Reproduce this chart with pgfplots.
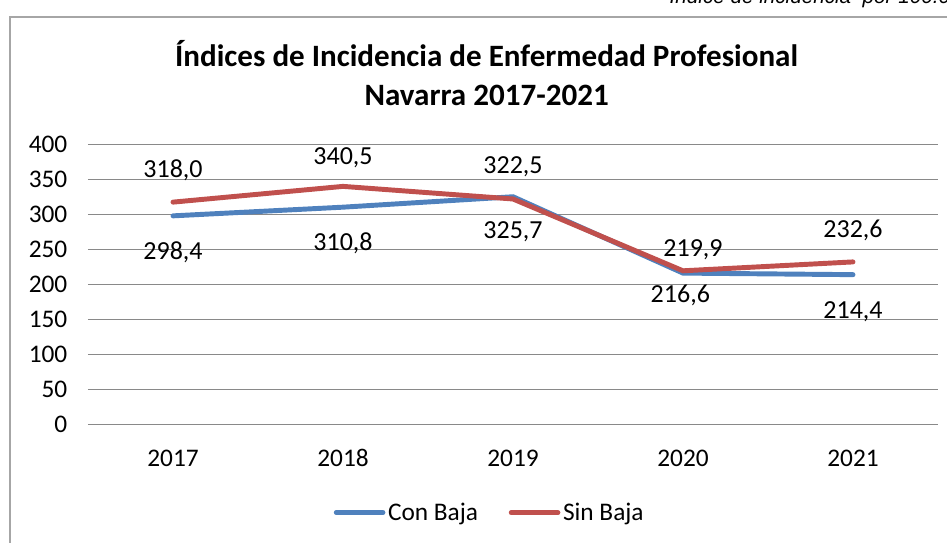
\documentclass[border=0pt]{standalone}
\usepackage{pgfplots}
\pgfplotsset{compat=1.18}
\usepackage{pgfplotstable}
\usepackage{fontspec}
\setmainfont{Carlito}
\newfontfamily\arialfont{Liberation Sans}
\definecolor{conbaja}{HTML}{4F81BD}
\definecolor{sinbaja}{HTML}{C0504D}
\definecolor{gridgray}{HTML}{898989}

% dx, dy: label offsets (pt) from each point
\pgfplotstableread{
x  y      dx   dy
0  298.4  0    -27
1  310.8  0    -27
2  325.7  0    -26.25
3  216.6  -2   -16.5
4  214.4  0    -27.75
}\conbaja
\pgfplotstableread{
x  y      dx   dy
0  318.0  0    24
1  340.5  0    21.75
2  322.5  0    24
3  219.9  7.5  15.75
4  232.6  0    24
}\sinbaja

\begin{document}
\begin{tikzpicture}
\useasboundingbox (0,0) rectangle (710.25pt,407.25pt);
\clip (0,0) rectangle (710.25pt,407.25pt);
\draw[gray!70, line width=1.1pt] (7.5pt,394.5pt) rectangle (720pt,-10pt);
\node[anchor=base west, font=\arialfont\itshape\fontsize{15.5}{18}\selectfont] at (498.75pt,404.8pt) {Índice de incidencia\ \ por 100.000 trabajadores};
\node[align=center, font=\bfseries\fontsize{23.3}{29.5}\selectfont] at (365pt,352.5pt) {Índices de Incidencia de Enfermedad Profesional\\Navarra 2017-2021};
\begin{axis}[
    at={(66pt,88.7pt)}, anchor=south west,
    scale only axis,
    width=637.5pt, height=210pt,
    xmin=-0.5, xmax=4.5,
    ymin=0, ymax=400,
    ytick={0,50,...,400},
    xtick={0,...,4},
    xticklabels={2017,2018,2019,2020,2021},
    axis line style={draw=none},
    major tick length=0pt,
    ymajorgrids,
    grid style={gridgray, line width=1.1pt},
    tick label style={font=\fontsize{19}{22}\selectfont},
    /pgf/number format/assume math mode=true,
    yticklabel style={xshift=-12pt},
    xticklabel style={anchor=base, yshift=-31pt},
    legend columns=2,
    legend style={at={(0.473,-0.314)}, anchor=center, draw=none, font=\fontsize{19}{22}\selectfont,
        /tikz/every even column/.append style={column sep=21pt}},
    legend image code/.code={\draw[#1, line cap=round] (0pt,0pt) -- (35pt,0pt);},
    nodes near coords={\pgfmathprintnumber[fixed, fixed zerofill, precision=1, use comma, assume math mode=true]{\pgfplotspointmeta}},
    visualization depends on=\thisrow{dx}\as\dx,
    visualization depends on=\thisrow{dy}\as\dy,
    every node near coord/.append style={anchor=center, xshift=\dx pt, yshift=\dy pt, font=\fontsize{19.5}{22}\selectfont, text=black},
    clip=false,
]
\addplot[conbaja, line width=3.7pt, line cap=round] table[x=x, y=y] {\conbaja};
\addlegendentry{Con Baja}
\addplot[sinbaja, line width=3.7pt, line cap=round] table[x=x, y=y] {\sinbaja};
\addlegendentry{Sin Baja}
\end{axis}
\end{tikzpicture}
\end{document}
